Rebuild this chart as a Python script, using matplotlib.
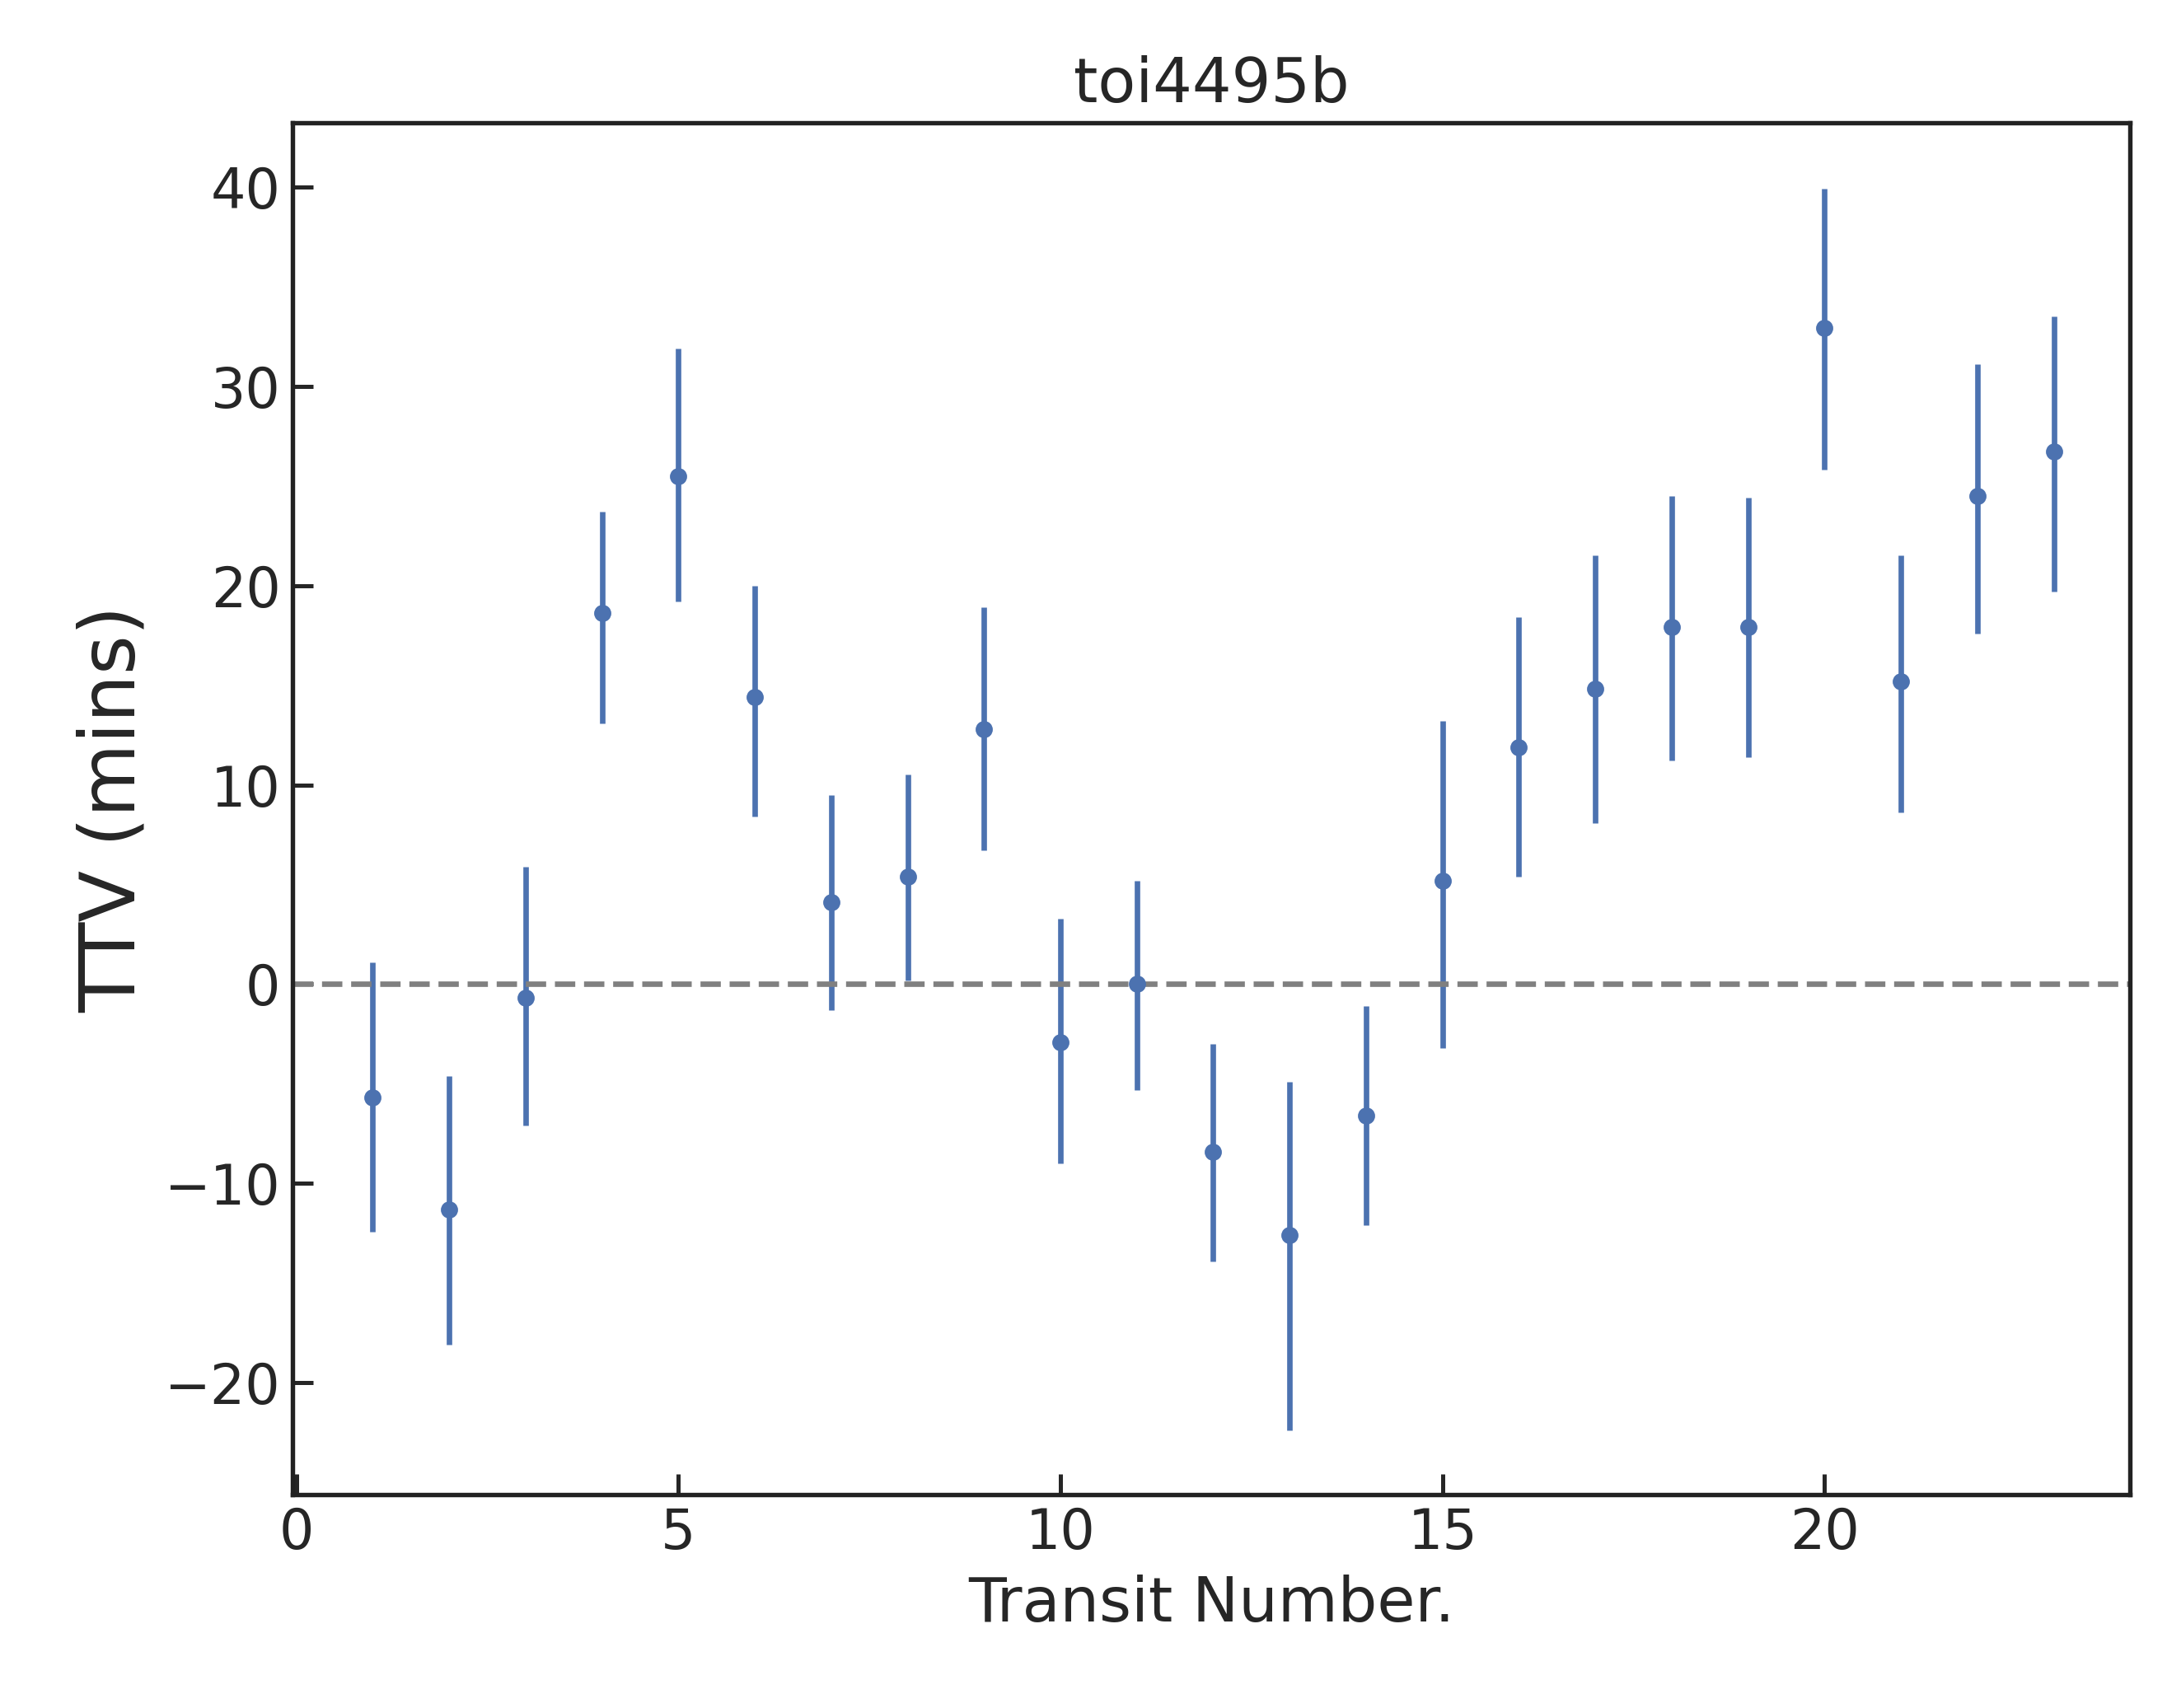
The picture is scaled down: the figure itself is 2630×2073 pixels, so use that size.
import numpy as np
import matplotlib
matplotlib.use("Agg")
import matplotlib.pyplot as plt
import seaborn as sns

sns.set_theme(style="ticks")
plt.rcParams['font.family'] = ['DejaVu Sans']

transit = np.arange(1, 24)
ttv = [-5.7, -11.3, -0.7, 18.6, 25.5, 14.4, 4.1, 5.4, 12.8, -2.9, 0.0, -8.4,
       -12.6, -6.6, 5.2, 11.9, 14.8, 17.9, 17.9, 32.9, 15.2, 24.5, 26.7]
err_lo = [6.7, 6.8, 6.4, 5.5, 6.3, 6.0, 5.4, 5.2, 6.1, 6.1, 5.3, 5.5,
          9.8, 5.5, 8.4, 6.5, 6.7, 6.7, 6.5, 7.1, 6.6, 6.9, 7.0]
err_hi = [6.8, 6.7, 6.6, 5.1, 6.4, 5.6, 5.4, 5.1, 6.1, 6.2, 5.2, 5.4,
          7.7, 5.5, 8.0, 6.5, 6.7, 6.6, 6.5, 7.0, 6.3, 6.6, 6.8]

fig = plt.figure(figsize=(2630/300, 2073/300), dpi=300)
ax = fig.add_axes([0.135, 0.125, 0.848, 0.803])
ax.errorbar(transit, ttv, yerr=[err_lo, err_hi], fmt='o', color='#4c72b0',
            ms=4, elinewidth=1.6, capsize=0)
ax.axhline(0, color='gray', ls='--', lw=1.6)
ax.set_xlim(-0.05, 24)
ax.set_ylim(-25.6, 43.2)
ax.tick_params(direction='in', labelsize=16, length=6, width=1.2)
for s in ax.spines.values():
    s.set_linewidth(1.3)
    s.set_color('#222222')
ax.set_xlabel("Transit Number.", fontsize=18)
ax.set_ylabel("TTV (mins)", fontsize=22)
ax.set_title("toi4495b", fontsize=18)
fig.savefig("out.png", dpi=300)
